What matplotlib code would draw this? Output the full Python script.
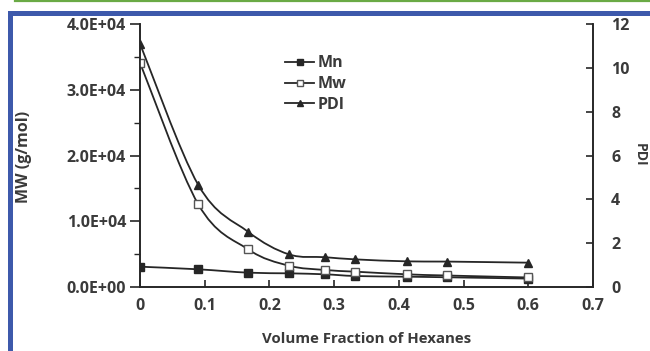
import numpy as np
import matplotlib
matplotlib.use("Agg")
import matplotlib.pyplot as plt
from matplotlib.path import Path
from matplotlib.patches import PathPatch, Rectangle
from matplotlib.lines import Line2D
from matplotlib.ticker import MultipleLocator

# data
hexane_frac = [0.0, 0.09, 0.167, 0.23, 0.286, 0.333, 0.412, 0.474, 0.6]
mn = [3090, 2690, 2180, 2080, 1930, 1670, 1570, 1480, 1280]
mw = [34100, 12580, 5730, 3240, 2590, 2330, 1930, 1750, 1450]
pdi = [11.1, 4.66, 2.52, 1.49, 1.36, 1.26, 1.17, 1.16, 1.11]

x_ticks = [0, 0.1, 0.2, 0.3, 0.4, 0.5, 0.6, 0.7]
x_labels = ["0", "0.1", "0.2", "0.3", "0.4", "0.5", "0.6", "0.7"]
left_ticks = [0, 10000, 20000, 30000, 40000]
left_labels = ["0.0E+00", "1.0E+04", "2.0E+04", "3.0E+04", "4.0E+04"]
right_ticks = [0, 2, 4, 6, 8, 10, 12]

W, H = 650, 351
ink = "#262626"
txt = "#3a3a3a"
plt.rcParams["font.family"] = ["Open Sans", "DejaVu Sans"]
plt.rcParams["font.weight"] = "bold"


def smooth_patch(xs, ys, **kw):
    """Excel-style smoothed line as cubic bezier segments."""
    n = len(xs)
    verts = [(xs[0], ys[0])]
    codes = [Path.MOVETO]
    for i in range(n - 1):
        a = max(i - 1, 0)
        b = min(i + 2, n - 1)
        c1 = (xs[i] + (xs[i + 1] - xs[a]) / 6, ys[i] + (ys[i + 1] - ys[a]) / 6)
        c2 = (xs[i + 1] - (xs[b] - xs[i]) / 6, ys[i + 1] - (ys[b] - ys[i]) / 6)
        verts += [c1, c2, (xs[i + 1], ys[i + 1])]
        codes += [Path.CURVE4] * 3
    return PathPatch(Path(verts, codes), fill=False, **kw)


fig = plt.figure(figsize=(W / 100, H / 100), dpi=100)
ax = fig.add_axes([140 / W, 1 - 287 / H, (593 - 140) / W, (287 - 24) / H])
ax2 = ax.twinx()

lw = 1.3
ms = 5.5
ax.add_patch(smooth_patch(hexane_frac, mn, lw=lw, edgecolor=ink, zorder=3))
ax.add_patch(smooth_patch(hexane_frac, mw, lw=lw, edgecolor=ink, zorder=3))
ax2.add_patch(smooth_patch(hexane_frac, pdi, lw=lw, edgecolor=ink, zorder=3))
ax.plot(hexane_frac, mn, ls="none", marker="s", ms=ms, color=ink, zorder=4)
ax.plot(hexane_frac, mw, ls="none", marker="s", ms=ms, mfc="white", mec="#555555",
        mew=1.0, zorder=4)
ax2.plot(hexane_frac, pdi, ls="none", marker="^", ms=ms, color=ink, zorder=4)

ax.set_xlim(0, 0.7)
ax.set_ylim(0, 40000)
ax2.set_ylim(0, 12)
ax.set_xticks(x_ticks)
ax.set_xticklabels(x_labels)
ax.set_yticks(left_ticks)
ax.set_yticklabels(left_labels)
ax.yaxis.set_minor_locator(MultipleLocator(5000))
ax2.set_yticks(right_ticks)

for a in (ax, ax2):
    a.spines["top"].set_visible(False)
    for s in ("left", "right", "bottom"):
        a.spines[s].set_color(ink)
        a.spines[s].set_linewidth(1.2)
    a.patch.set_visible(False)

fs = 11.5
ax.tick_params(axis="x", direction="in", length=5, width=1.2, color=ink, pad=8,
               labelsize=fs, labelcolor=txt)
ax.tick_params(axis="y", which="major", direction="out", length=7, width=1.2,
               color=ink, pad=3, labelsize=fs, labelcolor=txt)
ax.tick_params(axis="y", which="minor", direction="out", length=4, width=1.0,
               color=ink)
ax2.tick_params(axis="y", direction="in", length=5, width=1.2, color=ink, pad=13,
                labelsize=fs, labelcolor=txt)
for lab in ax.get_xticklabels() + ax.get_yticklabels() + ax2.get_yticklabels():
    lab.set_fontweight("bold")

ax.set_xlabel("Volume Fraction of Hexanes", fontsize=10.8, color=txt,
              fontweight="bold", va="center")
ax.xaxis.set_label_coords(0.5, -(339 - 287) / (287 - 24))
ax.set_ylabel("MW (g/mol)", fontsize=11.5, color=txt, fontweight="bold",
              va="center")
ax.yaxis.set_label_coords(-(140 - 24) / (593 - 140), (287 - 157) / (287 - 24))
fig.text(640 / W, 1 - 155 / H, "PDI", rotation=270, ha="center", va="center",
         fontsize=10, color=txt, fontweight="bold")

handles = [
    Line2D([], [], color=ink, lw=lw, marker="s", ms=4.5),
    Line2D([], [], color=ink, lw=lw, marker="s", ms=4.5, mfc="white", mec="#555555"),
    Line2D([], [], color=ink, lw=lw, marker="^", ms=4.5),
]
leg = ax.legend(handles, ["Mn", "Mw", "PDI"], loc="upper left",
                bbox_to_anchor=((279 - 140) / (593 - 140), 1 - (49 - 24) / (287 - 24)),
                frameon=False, handlelength=1.8, handletextpad=0.2,
                labelspacing=0.3, prop={"family": ["Open Sans"], "size": 11.5,
                                        "weight": "bold"},
                borderaxespad=0)
for t in leg.get_texts():
    t.set_color(txt)
    t.set_fontweight("bold")

# page decorations around the figure
fig.add_artist(Line2D([15 / W, 1], [1 - 1 / H, 1 - 1 / H], color="#6aaa45",
                      lw=1.6, transform=fig.transFigure))
fig.add_artist(Rectangle((9.5 / W, -0.2), 1.2, 1.2 - 12.5 / H, fill=False,
                         edgecolor="#3d59ab", lw=3.6, transform=fig.transFigure))

fig.savefig("out.png", dpi=100)
